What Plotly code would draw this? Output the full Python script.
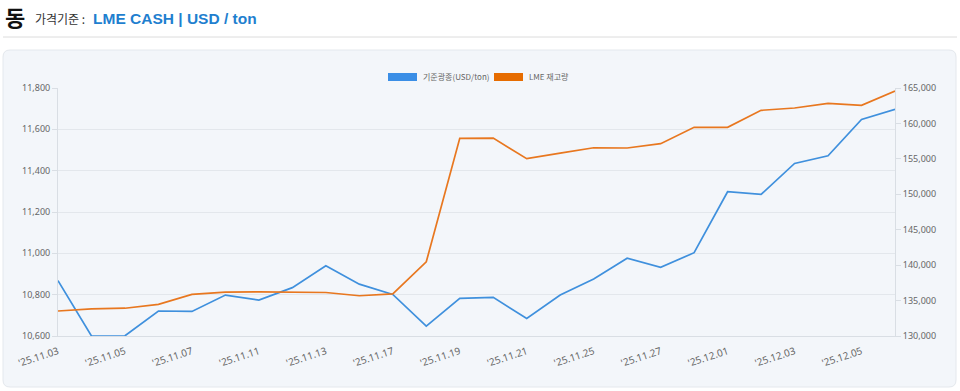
import plotly.graph_objects as go

# ---- data ----
dates = ["'25.11.03", "'25.11.04", "'25.11.05", "'25.11.06", "'25.11.07",
         "'25.11.10", "'25.11.11", "'25.11.12", "'25.11.13", "'25.11.14",
         "'25.11.17", "'25.11.18", "'25.11.19", "'25.11.20", "'25.11.21",
         "'25.11.24", "'25.11.25", "'25.11.26", "'25.11.27", "'25.11.28",
         "'25.12.01", "'25.12.02", "'25.12.03", "'25.12.04", "'25.12.05",
         "'25.12.08"]
price = [10868, 10600, 10601, 10721, 10719, 10798, 10774, 10834, 10940, 10851,
         10801, 10648, 10782, 10787, 10685, 10798, 10876, 10976, 10932, 11003,
         11298, 11285, 11435, 11472, 11648, 11697]
stock = [133530, 133820, 133920, 134460, 135870, 136200, 136230, 136200, 136140, 135680,
         135950, 140470, 157900, 157930, 155030, 155820, 156570, 156530, 157140, 159450,
         159450, 161850, 162180, 162840, 162560, 164580]
series_names = ["기준광종(USD/ton)", "LME 재고량"]
tick_labels = dates[::2]

BLUE = "#3f90dd"
ORANGE = "#e8771f"
W, H = 960, 391
L, R, T, B = 58, 895, 88, 336


def px(x):
    return (x - L) / (R - L)


def py(y):
    return (B - y) / (B - T)


fig = go.Figure()
fig.add_trace(go.Scatter(x=dates, y=price, mode="lines", name=series_names[0],
                         line=dict(color=BLUE, width=1.7), showlegend=False))
fig.add_trace(go.Scatter(x=dates, y=stock, mode="lines", name=series_names[1],
                         line=dict(color=ORANGE, width=1.7), yaxis="y2", showlegend=False))

tickfont = dict(family="Noto Sans, Noto Sans CJK KR, sans-serif", size=9, color="#666666")
xtickfont = dict(family="Noto Sans, Noto Sans CJK KR, sans-serif", size=10, color="#666666")
grid = "#e3e7ec"
axisline = "#d9dee4"

shapes = []
# header separator
shapes.append(dict(type="line", xref="paper", yref="paper", x0=px(3), x1=px(957),
                   y0=py(37), y1=py(37), line=dict(color="#dcdcdc", width=1)))
# rounded panel
x0, x1, y0, y1, r = 3, 956, 50, 387, 7
path = (f"M {px(x0 + r)},{py(y0)} L {px(x1 - r)},{py(y0)} Q {px(x1)},{py(y0)} {px(x1)},{py(y0 + r)} "
        f"L {px(x1)},{py(y1 - r)} Q {px(x1)},{py(y1)} {px(x1 - r)},{py(y1)} "
        f"L {px(x0 + r)},{py(y1)} Q {px(x0)},{py(y1)} {px(x0)},{py(y1 - r)} "
        f"L {px(x0)},{py(y0 + r)} Q {px(x0)},{py(y0)} {px(x0 + r)},{py(y0)} Z")
shapes.append(dict(type="path", xref="paper", yref="paper", path=path, layer="below",
                   fillcolor="#f3f6fa", line=dict(color="#e4e8ed", width=1)))
# legend boxes
shapes.append(dict(type="rect", xref="paper", yref="paper", x0=px(388), x1=px(417),
                   y0=py(81), y1=py(73), fillcolor="#3a8ee6", line=dict(width=0)))
shapes.append(dict(type="rect", xref="paper", yref="paper", x0=px(494), x1=px(523),
                   y0=py(81), y1=py(73), fillcolor="#e66c00", line=dict(width=0)))

annotations = [
    dict(text="<b>동</b>", x=px(3), y=py(16), xref="paper", yref="paper", xanchor="left",
         yanchor="middle", showarrow=False,
         font=dict(family="Noto Sans CJK KR", size=22, color="#111111")),
    dict(text="가격기준 :", x=px(33), y=py(19), xref="paper", yref="paper", xanchor="left",
         yanchor="middle", showarrow=False,
         font=dict(family="Noto Sans CJK KR", size=12, color="#333333")),
    dict(text="<b>LME CASH | USD / ton</b>", x=px(91), y=py(19), xref="paper", yref="paper",
         xanchor="left", yanchor="middle", showarrow=False,
         font=dict(family="Liberation Sans, Arial, sans-serif", size=15.5, color="#1f7fcf")),
    dict(text=series_names[0], x=px(421), y=py(77), xref="paper", yref="paper", xanchor="left",
         yanchor="middle", showarrow=False,
         font=dict(family="Noto Sans CJK KR", size=8, color="#666666")),
    dict(text=series_names[1], x=px(527), y=py(77), xref="paper", yref="paper", xanchor="left",
         yanchor="middle", showarrow=False,
         font=dict(family="Noto Sans CJK KR", size=8, color="#666666")),
]

fig.update_layout(
    width=W, height=H,
    margin=dict(l=L, r=W - R, t=T, b=H - B),
    paper_bgcolor="white", plot_bgcolor="#f3f6fa",
    shapes=shapes, annotations=annotations, showlegend=False,
    xaxis=dict(type="category", range=[0, len(dates) - 1], tickmode="array",
               tickvals=tick_labels, ticktext=tick_labels, tickangle=-18,
               showgrid=False, showline=True, linecolor=axisline, ticks="outside",
               ticklen=5, tickcolor="rgba(0,0,0,0)",
               tickfont=xtickfont, zeroline=False),
    yaxis=dict(range=[10600, 11800], dtick=200, tickformat=",", showgrid=True,
               gridcolor=grid, showline=True, linecolor=axisline, ticks="outside",
               ticklen=5, tickcolor=axisline, tickfont=tickfont, zeroline=False),
    yaxis2=dict(range=[130000, 165000], dtick=5000, tickformat=",", overlaying="y",
                side="right", showgrid=False, showline=True, linecolor=axisline,
                ticks="outside", ticklen=5, tickcolor=axisline, tickfont=tickfont,
                zeroline=False),
)

fig.write_html("out.html", config={"displayModeBar": False},
               post_script="document.body.style.margin='0';")
